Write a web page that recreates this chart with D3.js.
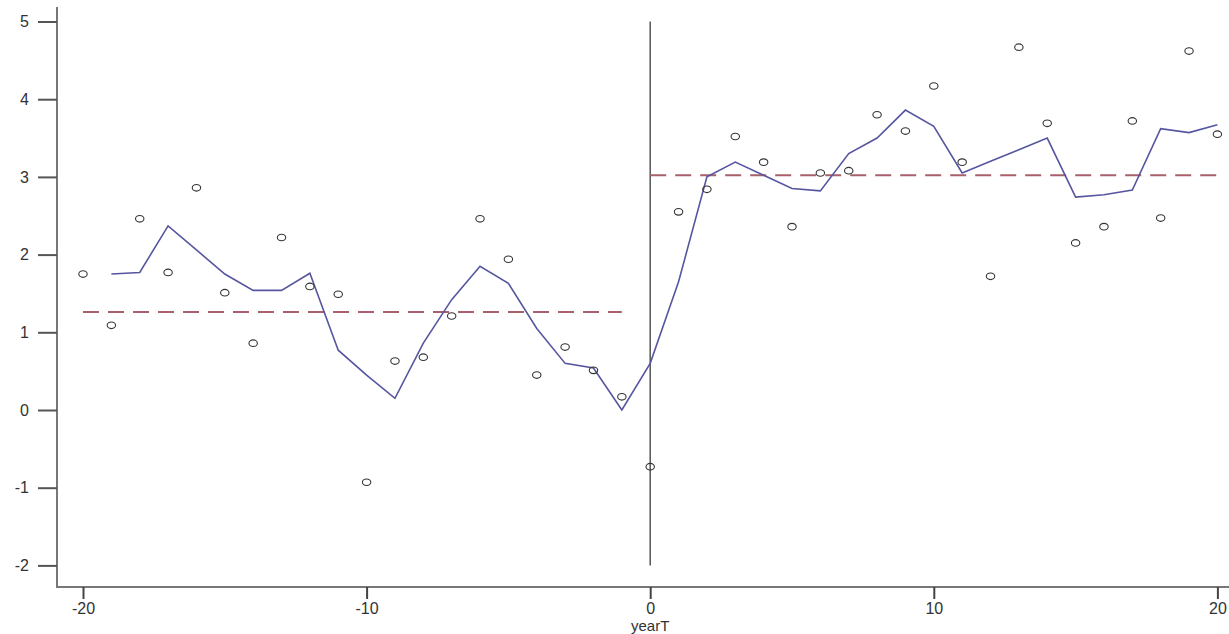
<!DOCTYPE html>
<html>
<head>
<meta charset="utf-8">
<script src="https://cdn.jsdelivr.net/npm/d3@7"></script>
<style>
  html, body { margin: 0; padding: 0; background: #fff; }
  svg { display: block; }
  text { font-family: "Liberation Sans", Arial, sans-serif; fill: #333; }
</style>
</head>
<body>
<svg id="chart" width="1229" height="634"></svg>
<script>
// ---- data ----
const years = [-20,-19,-18,-17,-16,-15,-14,-13,-12,-11,-10,-9,-8,-7,-6,-5,-4,-3,-2,-1,
               0,1,2,3,4,5,6,7,8,9,10,11,12,13,14,15,16,17,18,19,20];
const observed = [1.75,1.09,2.46,1.77,2.86,1.51,0.86,2.22,1.59,1.49,-0.93,0.63,0.68,1.21,2.46,1.94,0.45,0.81,0.51,0.17,
                  -0.73,2.55,2.84,3.52,3.19,2.36,3.05,3.08,3.80,3.59,4.17,3.19,1.72,4.67,3.69,2.15,2.36,3.72,2.47,4.62,3.55];
const smoothYears = [-19,-18,-17,-16,-15,-14,-13,-12,-11,-10,-9,-8,-7,-6,-5,-4,-3,-2,-1,
                     0,1,2,3,4,5,6,7,8,9,10,11,12,13,14,15,16,17,18,19,20];
const smoothed = [1.75,1.77,2.37,2.06,1.75,1.54,1.54,1.76,0.77,0.45,0.15,0.86,1.42,1.85,1.63,1.05,0.60,0.54,0.0,
                  0.60,1.65,3.0,3.19,3.02,2.85,2.82,3.30,3.50,3.86,3.65,3.05,3.20,3.35,3.50,2.74,2.77,2.83,3.62,3.57,3.67];
const meanSegments = [
  {x0: -20, x1: -1, value: 1.26},
  {x0: 0, x1: 20, value: 3.02}
];
const xTicks = [-20, -10, 0, 10, 20];
const yTicks = [-2, -1, 0, 1, 2, 3, 4, 5];
const xTitle = "yearT";

// ---- layout ----
const svg = d3.select("#chart");
const x = d3.scaleLinear().domain([-20, 20]).range([83, 1217.4]);
const y = d3.scaleLinear().domain([-2, 5]).range([565.4, 21.5]);
const fmt = d => String(d); // plain hyphen-minus like the reference

const axisColor = "#777";

// x axis
const gx = svg.append("g").attr("transform", "translate(0,587)");
gx.append("line").attr("x1", 57).attr("x2", 1229).attr("y1", 0).attr("y2", 0)
  .attr("stroke", axisColor).attr("stroke-width", 2);
const gxa = gx.append("g").call(d3.axisBottom(x).tickValues(xTicks).tickSize(12).tickPadding(4).tickFormat(fmt));
gxa.select(".domain").remove();
gxa.selectAll(".tick line").attr("stroke", "#444").attr("stroke-width", 2);
gxa.selectAll(".tick text").style("font-size", "16px").attr("fill", "#2a2a2a");

// y axis
const gy = svg.append("g").attr("transform", "translate(57,0)");
gy.append("line").attr("x1", 0).attr("x2", 0).attr("y1", 7).attr("y2", 588)
  .attr("stroke", axisColor).attr("stroke-width", 2);
const gya = gy.append("g").call(d3.axisLeft(y).tickValues(yTicks).tickSize(19).tickPadding(9).tickFormat(fmt));
gya.select(".domain").remove();
gya.selectAll(".tick line").attr("stroke", "#555").attr("stroke-width", 2);
gya.selectAll(".tick text").style("font-size", "16px").attr("fill", "#2a2a2a");

// x title
svg.append("text").attr("x", x(0)).attr("y", 631).attr("text-anchor", "middle")
  .style("font-size", "15px").attr("fill", "#2a2a2a").text(xTitle);

// vertical reference line at 0
svg.append("line").attr("x1", x(0)).attr("x2", x(0)).attr("y1", y(5)).attr("y2", y(-2))
  .attr("stroke", "#555").attr("stroke-width", 1.5);

// dashed mean lines
svg.selectAll(".mean").data(meanSegments).enter().append("line")
  .attr("class", "mean")
  .attr("x1", d => x(d.x0)).attr("x2", d => x(d.x1))
  .attr("y1", d => y(d.value)).attr("y2", d => y(d.value))
  .attr("stroke", "#a8606c").attr("stroke-width", 2)
  .attr("stroke-dasharray", "16,9");

// smoothed line
const line = d3.line().x((d, i) => x(smoothYears[i])).y(d => y(d));
svg.append("path").datum(smoothed).attr("d", line)
  .attr("fill", "none").attr("stroke", "#5656a0").attr("stroke-width", 1.6);

// observed points
svg.selectAll(".pt").data(observed).enter().append("ellipse")
  .attr("class", "pt")
  .attr("cx", (d, i) => x(years[i])).attr("cy", d => y(d))
  .attr("rx", 4.2).attr("ry", 3.3)
  .attr("fill", "none").attr("stroke", "#333").attr("stroke-width", 1.1);
</script>
</body>
</html>
